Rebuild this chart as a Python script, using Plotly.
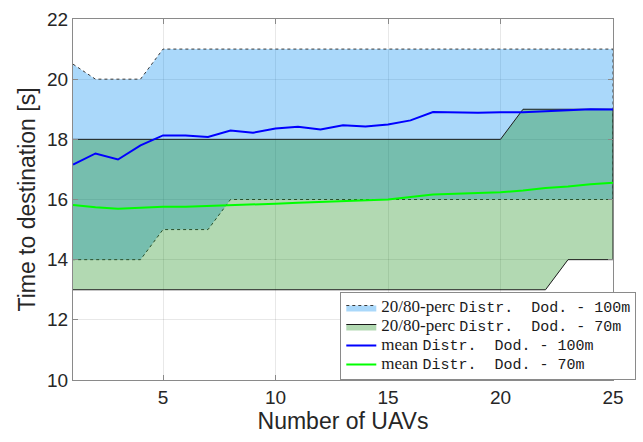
import plotly.graph_objects as go

# Number of UAVs
n_uavs = list(range(1, 26))

# 20/80 percentile band, Dod. 100 m
perc20_100 = [14, 14, 14, 14, 15, 15, 15, 16, 16, 16, 16, 16, 16, 16, 16, 16, 16, 16, 16, 16, 16, 16, 16, 16, 16]
perc80_100 = [20.5, 20, 20, 20, 21, 21, 21, 21, 21, 21, 21, 21, 21, 21, 21, 21, 21, 21, 21, 21, 21, 21, 21, 21, 21]

# 20/80 percentile band, Dod. 70 m
perc20_70 = [13, 13, 13, 13, 13, 13, 13, 13, 13, 13, 13, 13, 13, 13, 13, 13, 13, 13, 13, 13, 13, 13, 14, 14, 14]
perc80_70 = [18, 18, 18, 18, 18, 18, 18, 18, 18, 18, 18, 18, 18, 18, 18, 18, 18, 18, 18, 18, 19, 19, 19, 19, 19]

# Mean time to destination
mean_100 = [17.16, 17.53, 17.33, 17.80, 18.13, 18.13, 18.08, 18.29, 18.22, 18.36, 18.42, 18.33, 18.47,
            18.43, 18.49, 18.63, 18.91, 18.90, 18.88, 18.90, 18.90, 18.93, 18.97, 19.00, 18.99]
mean_70 = [15.82, 15.74, 15.69, 15.72, 15.76, 15.76, 15.78, 15.82, 15.83, 15.86, 15.89, 15.92, 15.93,
           15.96, 16.00, 16.08, 16.17, 16.19, 16.22, 16.24, 16.30, 16.38, 16.43, 16.51, 16.56]

x_ticks = [5, 10, 15, 20, 25]
y_ticks = [10, 12, 14, 16, 18, 20, 22]

MONO = "Liberation Mono"
SERIF = "Liberation Serif"
SANS = "Liberation Sans"


def label(prefix, rest):
    # serif prefix followed by a typewriter-style part
    return (f'<span style="font-size:17px">{prefix} </span>'
            f'<span style="font-family:{MONO};font-size:15px">{rest}</span>')


def band(lower, upper):
    xs = n_uavs + n_uavs[::-1]
    ys = upper + lower[::-1]
    return xs, ys


fig = go.Figure()

bx, by = band(perc20_100, perc80_100)
fig.add_trace(go.Scatter(
    x=bx, y=by, fill="toself", mode="lines",
    fillcolor="rgba(0,138,240,0.333)",
    line=dict(color="#3a3a3a", width=1, dash="dot"),
    name=label("20/80-perc", "Distr.&nbsp;&nbsp;Dod. - 100m"),
))

gx, gy = band(perc20_70, perc80_70)
fig.add_trace(go.Scatter(
    x=gx, y=gy, fill="toself", mode="lines",
    fillcolor="rgba(0,128,0,0.3)",
    line=dict(color="#1a1a1a", width=1),
    name=label("20/80-perc", "Distr.&nbsp;&nbsp;Dod. - 70m"),
))

fig.add_trace(go.Scatter(
    x=n_uavs, y=mean_100, mode="lines",
    line=dict(color="rgb(0,0,255)", width=2),
    name=label("mean", "Distr.&nbsp;&nbsp;Dod. - 100m"),
))

fig.add_trace(go.Scatter(
    x=n_uavs, y=mean_70, mode="lines",
    line=dict(color="rgb(0,255,0)", width=2),
    name=label("mean", "Distr.&nbsp;&nbsp;Dod. - 70m"),
))

axis_common = dict(
    showline=True, linecolor="#8a8a8a", linewidth=1, mirror="ticks",
    ticks="inside", ticklen=5, tickcolor="#8a8a8a",
    showgrid=True, gridcolor="rgba(0,0,0,0.09)", gridwidth=1,
    zeroline=False,
    tickfont=dict(family=SANS, size=19, color="#262626"),
)

fig.update_xaxes(
    range=[1, 25], tickvals=x_ticks,
    title=dict(text="Number of UAVs", standoff=4,
               font=dict(family=SANS, size=23, color="#262626")),
    **axis_common,
)
fig.update_yaxes(
    range=[10, 22], tickvals=y_ticks,
    title=dict(text="Time to destination [s]", standoff=5,
               font=dict(family=SANS, size=23, color="#262626")),
    **axis_common,
)

fig.update_layout(
    width=643, height=442,
    margin=dict(l=73, r=30, t=19, b=62, autoexpand=False),
    paper_bgcolor="white", plot_bgcolor="white",
    showlegend=True,
    legend=dict(
        x=0.495, y=0.0, xanchor="left", yanchor="bottom",
        bgcolor="white", bordercolor="#8a8a8a", borderwidth=1,
        font=dict(family=SERIF, size=12, color="#1a1a1a"),
        tracegroupgap=0, itemwidth=30,
    ),
)

fig.write_html("out.html")
